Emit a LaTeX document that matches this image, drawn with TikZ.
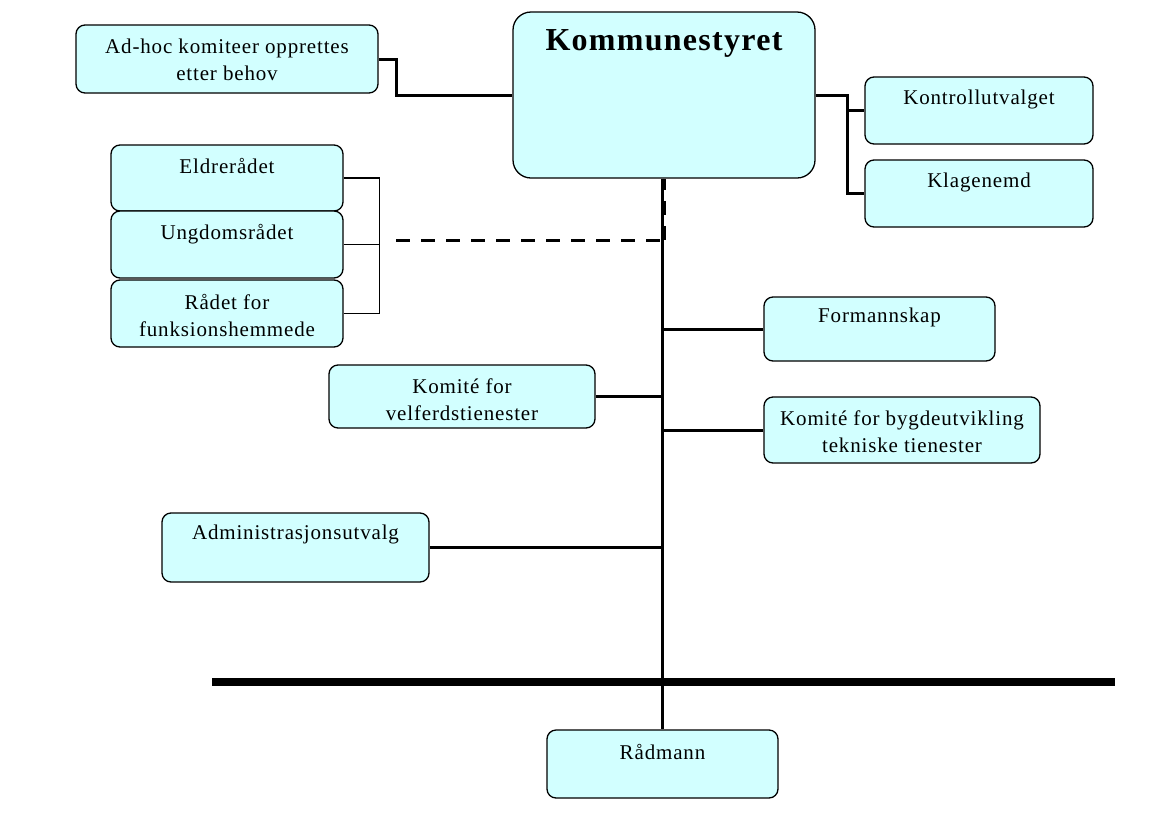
\documentclass[tikz,border=0pt]{standalone}
\usepackage{fontspec}
\setmainfont{Liberation Serif}[LetterSpace=4]
\usetikzlibrary{calc}
\definecolor{boxfill}{RGB}{210,255,255}
\begin{document}
\begin{tikzpicture}[x=1pt,y=-1pt,
  box/.style={draw=black, line width=1.3pt, fill=boxfill, rounded corners=9pt, inner sep=0pt},
  lbl/.style={inner sep=0pt, align=center, font=\fontsize{21}{27}\selectfont},
  titlelbl/.style={inner sep=0pt, font=\fontsize{32}{38}\selectfont\bfseries},
  link/.style={line width=3pt},
  trunk/.style={line width=3.5pt},
  brace/.style={line width=1.5pt},
  weaklink/.style={line width=3pt, dash pattern=on 14pt off 11pt},
  divider/.style={line width=8pt}]
\useasboundingbox (0,0) rectangle (1160,820);

% council and its direct committees
\node[box, minimum width=302pt, minimum height=166pt, rounded corners=18pt] (kstyret) at (664,95) {};
\node[titlelbl] (kstyret-t) at ([yshift=-32pt]kstyret.north) {Kommunestyret};

\node[box, minimum width=302pt, minimum height=68pt] (adhoc) at (227,59) {};
\node[lbl] (adhoc-t) at ([yshift=-35pt]adhoc.north) {Ad-hoc komiteer opprettes\\etter behov};

\node[box, minimum width=228pt, minimum height=67pt] (kontroll) at (979,110.5) {};
\node[lbl] (kontroll-t) at ([yshift=-23pt]kontroll.north) {Kontrollutvalget};

\node[box, minimum width=228pt, minimum height=67pt] (klage) at (979,193.5) {};
\node[lbl] (klage-t) at ([yshift=-23pt]klage.north) {Klagenemd};

% advisory councils
\node[box, minimum width=232pt, minimum height=66pt] (eldre) at (227,178) {};
\node[lbl] (eldre-t) at ([yshift=-22pt]eldre.north) {Eldrerådet};

\node[box, minimum width=232pt, minimum height=67pt] (ungdom) at (227,244.5) {};
\node[lbl] (ungdom-t) at ([yshift=-24pt]ungdom.north) {Ungdomsrådet};

\node[box, minimum width=232pt, minimum height=67pt] (raadet) at (227,313.5) {};
\node[lbl] (raadet-t) at ([yshift=-36pt]raadet.north) {Rådet for\\funksionshemmede};

% committees along the trunk
\node[box, minimum width=231pt, minimum height=64pt] (formann) at (879.5,329) {};
\node[lbl] (formann-t) at ([yshift=-21pt]formann.north) {Formannskap};

\node[box, minimum width=266pt, minimum height=63pt] (velferd) at (462,396.5) {};
\node[lbl] (velferd-t) at ([yshift=-35pt]velferd.north) {Komité for\\velferdstienester};

\node[box, minimum width=276pt, minimum height=66pt] (bygd) at (902,430) {};
\node[lbl] (bygd-t) at ([yshift=-35pt]bygd.north) {Komité for bygdeutvikling\\tekniske tienester};

\node[box, minimum width=267pt, minimum height=69pt] (admin) at (295.5,547.5) {};
\node[lbl] (admin-t) at ([yshift=-22pt]admin.north) {Administrasjonsutvalg};

\node[box, minimum width=231pt, minimum height=68pt] (raadmann) at (662.5,764) {};
\node[lbl] (raadmann-t) at ([yshift=-23pt]raadmann.north) {Rådmann};

% connectors
\draw[link] (adhoc.east) -- ++(18,0) |- (kstyret.west);

\path (kstyret.east) ++(32,0) coordinate (kb);
\draw[link] (kstyret.east) -- (kb) |- (kontroll.west);
\draw[link] (kb) |- (klage.west);

\draw[trunk] (kstyret.south -| raadmann.north) -- (raadmann.north);

\draw[link] (formann.west) -- (formann.west -| raadmann.north);
\draw[link] (velferd.east) -- (velferd.east -| raadmann.north);
\draw[link] (bygd.west) -- (bygd.west -| raadmann.north);
\draw[link] (admin.east) -- (admin.east -| raadmann.north);

% bracket joining the advisory councils, dashed link up to the council
\draw[brace] (eldre.east) -- ++(36,0) coordinate (br1);
\draw[brace] (ungdom.east) -- ++(36,0) coordinate (br2);
\draw[brace] (raadet.east) -- ++(36,0) coordinate (br3);
\draw[brace] (br1) -- (br3);
\coordinate (dstart) at (396,240);
\coordinate (dend) at (dstart -| raadmann.north);
\draw[weaklink] (dstart) -- (dend);
\draw[weaklink] ([xshift=1.5pt]dend) -- ([xshift=1.5pt]dend |- kstyret.south);

% political / administrative divide
\coordinate (divL) at (212,682);
\coordinate (divR) at (1115,682);
\draw[divider] (divL) -- (divR);
\end{tikzpicture}
\end{document}
